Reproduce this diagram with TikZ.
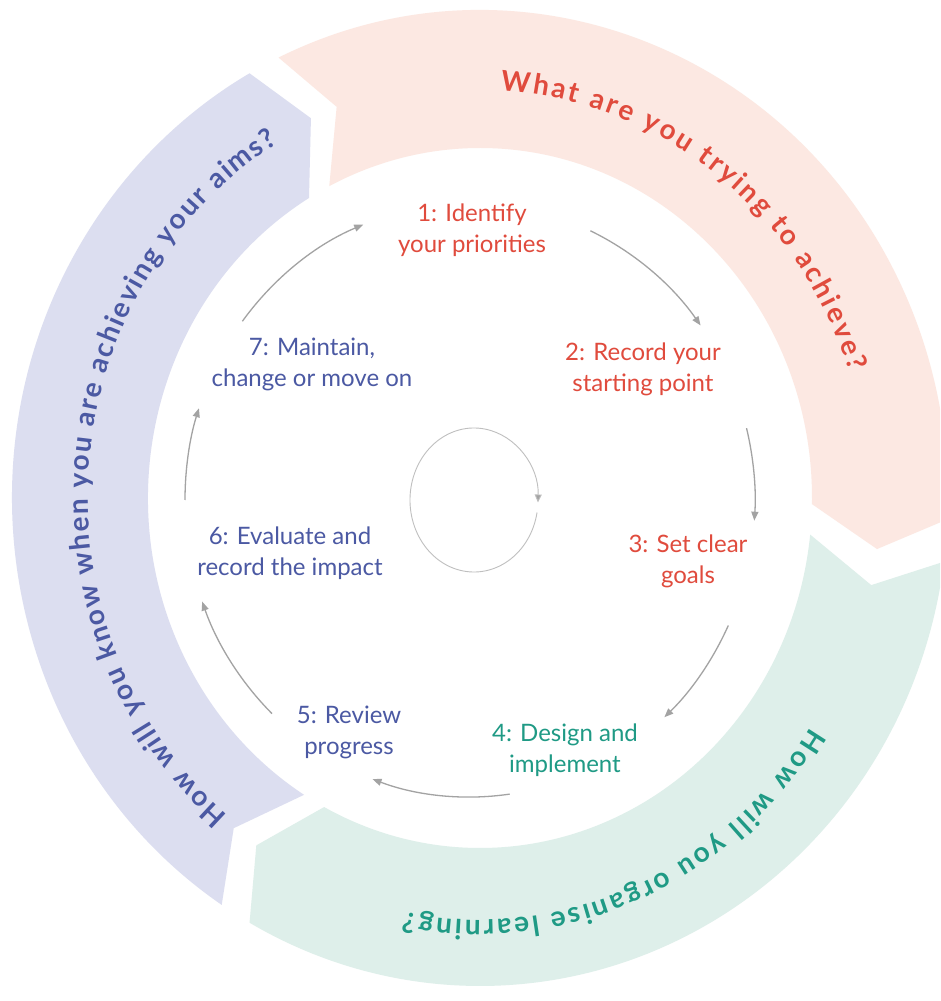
\documentclass[tikz,border=0pt]{standalone}
\usepackage{fontspec}
\setmainfont{Lato}
\usetikzlibrary{arrows.meta,decorations.text}
\definecolor{bandpink}{HTML}{FCE8E2}
\definecolor{bandgreen}{HTML}{DEEFEA}
\definecolor{bandpurple}{HTML}{DCDEF0}
\definecolor{txtred}{HTML}{E04B3D}
\definecolor{txtteal}{HTML}{1F9A85}
\definecolor{txtblue}{HTML}{4B59A3}
\definecolor{arrowgray}{HTML}{A3A3A3}
\newcommand\headfont{\fontsize{28}{28}\selectfont\bfseries}
% #1 notch angle, #2 tip angle, #3 colour
\newcommand\bandshape[3]{%
  \fill[#3] ({468*cos(#1+4.5)},{488*sin(#1+4.5)})
    arc[start angle={#1+4.5}, end angle={#2+4.5}, x radius=468pt, y radius=488pt]
    -- ({400*cos(#2)},{419*sin(#2)})
    -- ({332*cos(#2+6)},{350*sin(#2+6)})
    arc[start angle={#2+6}, end angle={#1+6}, x radius=332pt, y radius=350pt]
    -- ({400*cos(#1)},{419*sin(#1)}) -- cycle;}
\begin{document}
\begin{tikzpicture}[x=1pt,y=1pt,
  flow/.style={draw=arrowgray, line width=1.3pt, -{Triangle[length=9pt,width=7pt]}},
  steplabel/.style={font=\fontsize{24}{31}\selectfont, align=center, inner sep=0pt}]
\useasboundingbox (-480,-503) rectangle (460,498);
\clip (-480,-503) rectangle (460,498);
\fill[white] (-480,-503) rectangle (460,498);
% bands
\bandshape{111}{-7}{bandpink}
\bandshape{-12}{-124}{bandgreen}
\bandshape{232}{115}{bandpurple}
% curved headings
\path[decorate, decoration={text along path, text align={fit to path}, text color=txtred,
  text={|\headfont|What are you trying to achieve?}}]
  ({388*cos(87)},{408*sin(87)}) arc[start angle=87, end angle=18, x radius=388pt, y radius=408pt];
\path[decorate, decoration={text along path, text align={fit to path}, text color=txtteal,
  text={|\headfont|How will you organise learning?}}]
  ({394*cos(-33)},{422*sin(-33)}) arc[start angle=-33, end angle=-101, x radius=394pt, y radius=422pt];
\path[decorate, decoration={text along path, text align={fit to path}, text color=txtblue,
  text={|\headfont|How will you know when you are achieving your aims?}}]
  ({392*cos(230)},{414*sin(230)}) arc[start angle=230, end angle=121, x radius=392pt, y radius=414pt];
% step labels
\node[steplabel, text=txtred]  (s1) at (-8,268)   {1: Identify\\your priorities};
\node[steplabel, text=txtred]  (s2) at (163,129)  {2: Record your\\starting point};
\node[steplabel, text=txtred]  (s3) at (208,-63)  {3: Set clear\\goals};
\node[steplabel, text=txtteal] (s4) at (85,-252)  {4: Design and\\implement};
\node[steplabel, text=txtblue] (s5) at (-131,-234) {5: Review\\progress};
\node[steplabel, text=txtblue] (s6) at (-190,-55) {6: Evaluate and\\record the impact};
\node[steplabel, text=txtblue] (s7) at (-168,134) {7: Maintain,\\change or move on};
% cycle arrows
\coordinate (a71) at ({-10+285*cos(143)},{-2+297*sin(143)});
\coordinate (a12) at ({-10+285*cos(65)},{-2+297*sin(65)});
\coordinate (a23) at ({-10+285*cos(14)},{-2+297*sin(14)});
\coordinate (a34) at ({-10+285*cos(-25)},{-2+297*sin(-25)});
\coordinate (a45) at ({-10+285*cos(-82)},{-2+297*sin(-82)});
\coordinate (a56) at ({-10+285*cos(-134)},{-2+297*sin(-134)});
\coordinate (a67) at ({-10+285*cos(180)},{-2+297*sin(180)});
\draw[flow] (a71) arc[start angle=143, end angle=112, x radius=285pt, y radius=297pt];
\draw[flow] (a12) arc[start angle=65, end angle=36, x radius=285pt, y radius=297pt];
\draw[flow] (a23) arc[start angle=14, end angle=-4, x radius=285pt, y radius=297pt];
\draw[flow] (a34) arc[start angle=-25, end angle=-47, x radius=285pt, y radius=297pt];
\draw[flow] (a45) arc[start angle=-82, end angle=-110, x radius=285pt, y radius=297pt];
\draw[flow] (a56) arc[start angle=-134, end angle=-160, x radius=285pt, y radius=297pt];
\draw[flow] (a67) arc[start angle=180, end angle=162, x radius=285pt, y radius=297pt];
% central loop
\coordinate (loop) at ({-6+64*cos(-10)},{-2+72*sin(-10)});
\draw[draw=arrowgray!70, line width=0.9pt, -{Triangle[length=8pt,width=7pt,fill=arrowgray]}]
  (loop) arc[start angle=-10, end angle=-362, x radius=64pt, y radius=72pt];
\end{tikzpicture}
\end{document}
